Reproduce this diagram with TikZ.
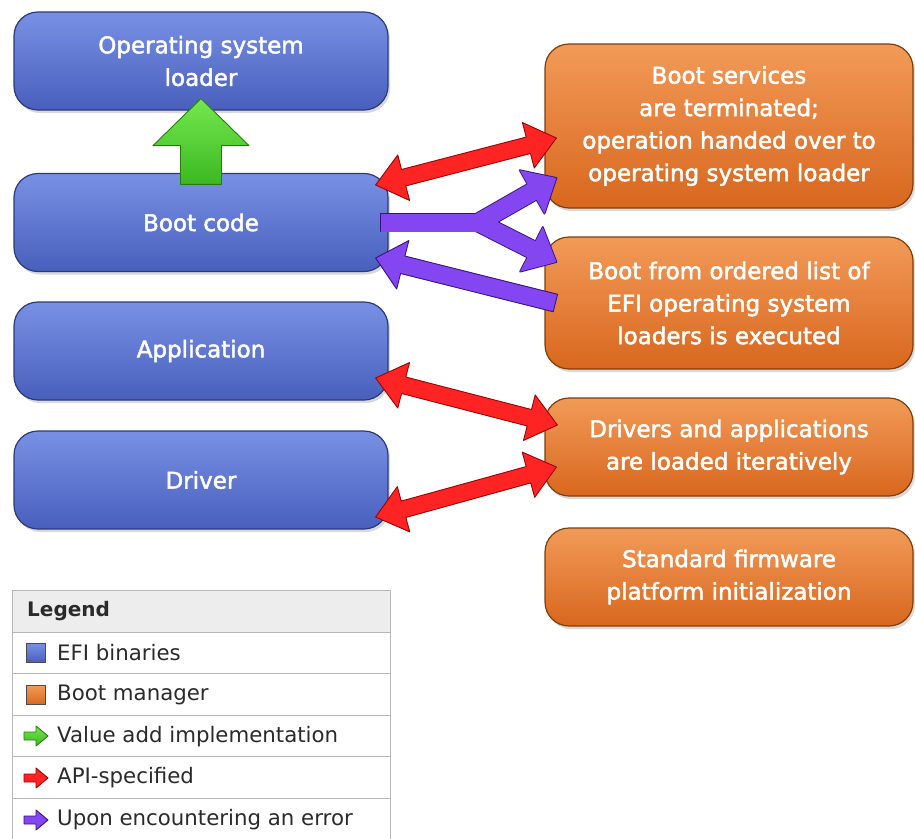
\documentclass[tikz,border=0pt]{standalone}
\usepackage{fontspec}
\setmainfont{DejaVu Sans}
\newfontfamily\boxfont{DejaVu Sans}[FakeBold=2]
\usetikzlibrary{calc,shadows}

\definecolor{bluetop}{HTML}{7890E4}
\definecolor{bluebot}{HTML}{4860BC}
\definecolor{blueedge}{HTML}{2B3A78}
\definecolor{orgtop}{HTML}{F29A58}
\definecolor{orgbot}{HTML}{D8671E}
\definecolor{orgedge}{HTML}{7E3F0C}
\definecolor{redfill}{HTML}{FF2424}
\definecolor{rededge}{HTML}{A00000}
\definecolor{purfill}{HTML}{8446F0}
\definecolor{puredge}{HTML}{3A1080}
\definecolor{grntop}{HTML}{74E84E}
\definecolor{grnbot}{HTML}{3CB822}
\definecolor{grnedge}{HTML}{2A7A10}
\definecolor{leghead}{HTML}{EDEDED}
\definecolor{legline}{HTML}{B8B8B8}
\definecolor{legtext}{HTML}{2A2A2A}

% single-headed fat arrow: #1 style, #2 tail, #3 tip, #4 head half width, #5 body half width, #6 head length
\newcommand\sglarrow[6]{%
  \coordinate (tmpH) at ($(#3)!#6!(#2)$);
  \path[#1] ($(#2)!#5!90:(#3)$) -- ($(tmpH)!#5!-90:(#2)$) -- ($(tmpH)!#4!-90:(#2)$) -- (#3)
    -- ($(tmpH)!#4!90:(#2)$) -- ($(tmpH)!#5!90:(#2)$) -- ($(#2)!#5!-90:(#3)$) -- cycle;}
% double-headed fat arrow
\newcommand\dblarrow[6]{%
  \coordinate (tmpA) at ($(#2)!#6!(#3)$);
  \coordinate (tmpB) at ($(#3)!#6!(#2)$);
  \path[#1] (#2) -- ($(tmpA)!#4!90:(#3)$) -- ($(tmpA)!#5!90:(#3)$) -- ($(tmpB)!#5!-90:(#2)$)
    -- ($(tmpB)!#4!-90:(#2)$) -- (#3) -- ($(tmpB)!#4!90:(#2)$) -- ($(tmpB)!#5!90:(#2)$)
    -- ($(tmpA)!#5!-90:(#3)$) -- ($(tmpA)!#4!-90:(#3)$) -- cycle;}

\tikzset{
  efi/.style={draw=blueedge, line width=1.2pt, rounded corners=24pt,
    top color=bluetop, bottom color=bluebot,
    minimum width=374pt, minimum height=98pt, inner sep=0pt,
    drop shadow={opacity=0.3, shadow xshift=2pt, shadow yshift=-3pt},
    text=white, align=center, font=\boxfont\fontsize{23}{32.5}\selectfont},
  mgr/.style={efi, draw=orgedge, top color=orgtop, bottom color=orgbot, minimum width=368pt},
  redarr/.style={fill=redfill, draw=rededge, line width=0.9pt, line join=round},
  grnarr/.style={top color=grntop, bottom color=grnbot, draw=grnedge, line width=0.9pt, line join=round},
  purarr/.style={fill=purfill, draw=puredge, line width=0.9pt, line join=round},
  purline/.style={draw=puredge, line width=1.8pt, line join=round},
  purfillonly/.style={fill=purfill},
  legrow/.style={draw=legline, line width=0.8pt, minimum width=378pt, minimum height=41.6pt, inner sep=0pt, anchor=north west},
  legtxt/.style={anchor=west, inner sep=0pt, text=legtext, font=\fontsize{21.3}{25}\selectfont},
  legsq/.style={draw=black!70, line width=0.8pt, minimum size=19pt, inner sep=0pt},
}

\begin{document}
\begin{tikzpicture}[x=1pt, y=-1pt]
\useasboundingbox (0,0) rectangle (915,838);

% EFI binaries
\node[efi] (osl)  at (201,61)    {Operating system\\loader};
\node[efi] (boot) at (201,222.5) {Boot code};
\node[efi] (app)  at (201,351)   {Application};
\node[efi] (drv)  at (201,480)   {Driver};

% Boot manager
\node[mgr, minimum height=164pt] (bs) at (729,126) {Boot services\\are terminated;\\operation handed over to\\operating system loader};
\node[mgr, minimum height=132pt] (bf) at (729,303) {Boot from ordered list of\\EFI operating system\\loaders is executed};
\node[mgr] (da) at (729,447) {Drivers and applications\\are loaded iteratively};
\node[mgr] (sf) at (729,577) {Standard firmware\\platform initialization};

% arrow end points
\coordinate (gA) at ($(boot.north)+(0,11.5)$);
\coordinate (gB) at ($(osl.south)+(0,-12)$);
\coordinate (r1a) at ($(boot.east)+(-13,-37.5)$);
\coordinate (r1b) at ($(bs.west)+(12,12)$);
\coordinate (pT) at ($(boot.east)+(-8,0)$);
\coordinate (pJ) at ($(boot.east)+(90,0)$);
\coordinate (pJe) at ($(boot.east)+(98,0)$);
\coordinate (pU) at ($(bs.west)+(12,52)$);
\coordinate (pD) at ($(bf.west)+(12,-41)$);
\coordinate (pRa) at ($(bf.west)+(11,0)$);
\coordinate (pRb) at ($(boot.east)+(-13,35.5)$);
\coordinate (r2a) at ($(app.east)+(-13,27)$);
\coordinate (r2b) at ($(da.west)+(13,-22)$);
\coordinate (r3a) at ($(drv.east)+(-13,37)$);
\coordinate (r3b) at ($(da.west)+(12,20)$);

% green: value add
\sglarrow{grnarr}{gA}{gB}{48pt}{20.5pt}{47pt}

% red: API-specified
\dblarrow{redarr}{r1a}{r1b}{23.5pt}{8.5pt}{29pt}
\dblarrow{redarr}{r2a}{r2b}{23.5pt}{8.5pt}{29pt}
\dblarrow{redarr}{r3a}{r3b}{23.5pt}{8.5pt}{29pt}

% purple: on error (Y-split), outline pass then fill pass
\path[purline] ($(pT)+(0,-9)$) rectangle ($(pJe)+(0,9)$);
\sglarrow{purline}{pJ}{pU}{25pt}{9pt}{28pt}
\sglarrow{purline}{pJ}{pD}{25pt}{9pt}{28pt}
\path[purfillonly] ($(pT)+(0,-9)$) rectangle ($(pJe)+(0,9)$);
\sglarrow{purfillonly}{pJ}{pU}{25pt}{9pt}{28pt}
\sglarrow{purfillonly}{pJ}{pD}{25pt}{9pt}{28pt}
\sglarrow{purarr}{pRa}{pRb}{25pt}{9pt}{28pt}

% legend
\node[legrow, fill=leghead] (lh) at (12,590) {};
\node[legrow] (l1) at (12,631.6) {};
\node[legrow] (l2) at (12,673.2) {};
\node[legrow] (l3) at (12,714.8) {};
\node[legrow] (l4) at (12,756.4) {};
\node[legrow] (l5) at (12,798) {};
\node[legtxt, font=\fontsize{20}{24}\selectfont\bfseries] (lht) at (27,611) {Legend};
\node[legsq, top color=bluetop, bottom color=bluebot] (i1) at (36,653) {};
\node[legsq, top color=orgtop, bottom color=orgbot] (i2) at (36,695) {};
\coordinate (g1) at (24,736);  \coordinate (g2) at (48,736);
\coordinate (h1) at (24,778);  \coordinate (h2) at (48,778);
\coordinate (k1) at (24,820);  \coordinate (k2) at (48,820);
\sglarrow{grnarr}{g1}{g2}{10pt}{4pt}{12pt}
\sglarrow{redarr}{h1}{h2}{10pt}{4pt}{12pt}
\sglarrow{purarr}{k1}{k2}{10pt}{4pt}{12pt}
\node[legtxt] (t1) at (57,653) {EFI binaries};
\node[legtxt] (t2) at (57,695) {Boot manager};
\node[legtxt] (t3) at (57,737) {Value add implementation};
\node[legtxt] (t4) at (57,778) {API-specified};
\node[legtxt] (t5) at (57,820) {Upon encountering an error};
\end{tikzpicture}
\end{document}
